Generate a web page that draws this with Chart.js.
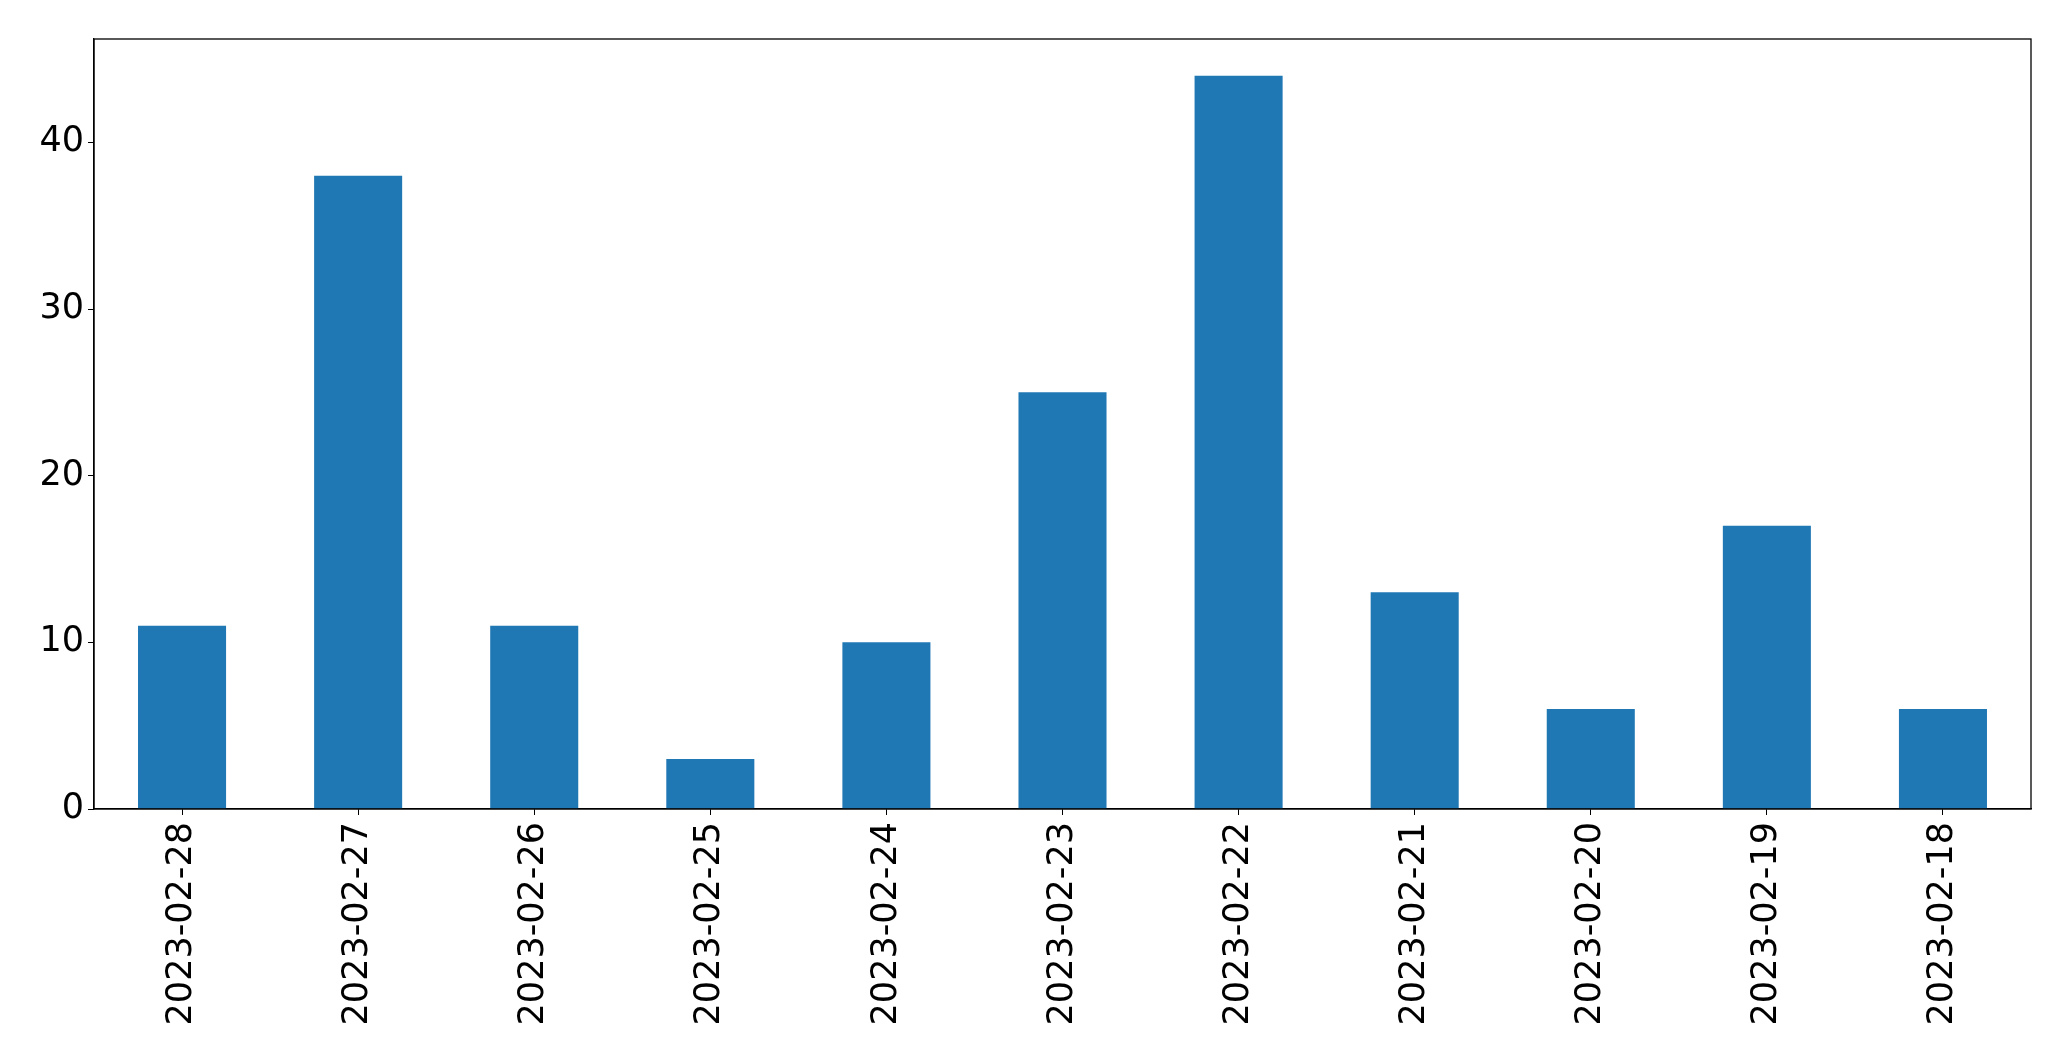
<!DOCTYPE html>
<html>
<head>
<meta charset="utf-8">
<script src="https://cdn.jsdelivr.net/npm/chart.js@4/dist/chart.umd.min.js"></script>
<style>
  body { margin: 0; background: #fff; }
  canvas { display: block; }
</style>
</head>
<body>
<canvas id="chartDays" width="2071" height="1061"></canvas>
<script>
const days = ['2023-02-28', '2023-02-27', '2023-02-26', '2023-02-25', '2023-02-24', '2023-02-23',
    '2023-02-22', '2023-02-21', '2023-02-20', '2023-02-19', '2023-02-18'];
const counts = [11, 38, 11, 3, 10, 25, 44, 13, 6, 17, 6];
const yTicks = [0, 10, 20, 30, 40];

// top and right spines, matplotlib style
const frame = {
    id: 'frame',
    afterDraw(chart) {
        const a = chart.chartArea;
        const ctx = chart.ctx;
        ctx.save();
        ctx.strokeStyle = '#000';
        ctx.lineWidth = 1.3;
        ctx.strokeRect(a.left, a.top, a.right - a.left, a.bottom - a.top);
        ctx.restore();
    }
};

chartDays();
function chartDays() {
    const ctx = document.getElementById('chartDays').getContext('2d');
    const font = { family: 'DejaVu Sans', size: 35 };
    new Chart(ctx, {
        type: 'bar',
        data: {
            labels: days,
            datasets: [{
                data: counts,
                backgroundColor: '#1f77b4',
                borderWidth: 0,
                barPercentage: 0.5,
                categoryPercentage: 1
            }]
        },
        options: {
            responsive: false,
            animation: false,
            layout: { padding: { left: 0, top: 39, right: 40, bottom: 0 } },
            plugins: { legend: { display: false }, tooltip: { enabled: false } },
            scales: {
                x: {
                    offset: true,
                    grid: { display: true, drawOnChartArea: false, drawTicks: true, tickLength: 6, color: '#000', offset: false },
                    border: { display: true, color: '#000', width: 1.3 },
                    ticks: { font: font, color: '#000', minRotation: 90, maxRotation: 90, autoSkip: false, padding: 7 },
                    afterFit(axis) { axis.height = 252; }
                },
                y: {
                    min: 0,
                    max: 46.2,
                    grid: { display: true, drawOnChartArea: false, drawTicks: true, tickLength: 6, color: '#000' },
                    border: { display: true, color: '#000', width: 1.3 },
                    ticks: { font: font, color: '#000', padding: 4 },
                    afterBuildTicks(axis) { axis.ticks = yTicks.map(v => ({ value: v })); },
                    afterFit(axis) { axis.width = 94; }
                }
            }
        },
        plugins: [frame]
    });
}
</script>
</body>
</html>
